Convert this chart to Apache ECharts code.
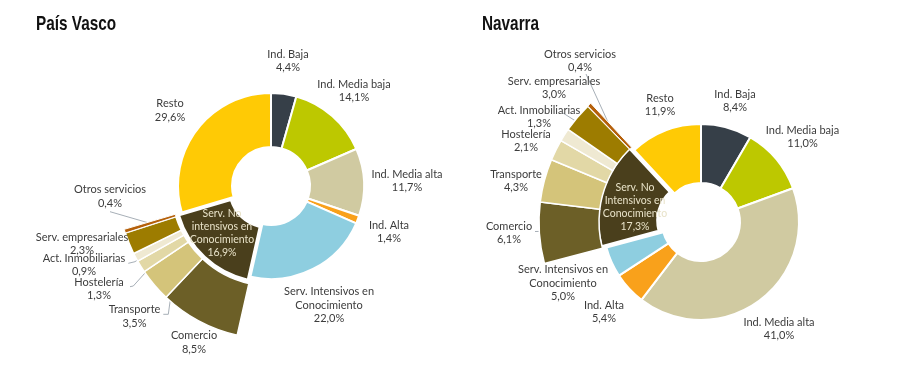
<!DOCTYPE html>
<html><head><meta charset="utf-8">
<script src="https://cdn.jsdelivr.net/npm/echarts@6/dist/echarts.min.js"></script>
<style>html,body{margin:0;padding:0;background:#fff}#c{width:904px;height:381px}</style>
</head><body><div id="c"></div>
<script>
// ---------------- DATA ----------------
const pvCategories = ['Ind. Baja','Ind. Media baja','Ind. Media alta','Ind. Alta','Serv. Intensivos en\nConocimiento','Serv. No\nintensivos en\nConocimiento','Resto'];
const navCategories = ['Ind. Baja','Ind. Media baja','Ind. Media alta','Ind. Alta','Serv. Intensivos en\nConocimiento','Serv. No\nIntensivos en\nConocimiento','Resto'];
const subCategories = ['Comercio','Transporte','Hostelería','Act. Inmobiliarias','Serv. empresariales','Otros servicios'];
const paisVascoMain = [4.4, 14.1, 11.7, 1.4, 22.0, 16.9, 29.6];
const paisVascoSub  = [8.5, 3.5, 1.3, 0.9, 2.3, 0.4];
const navarraMain   = [8.4, 11.0, 41.0, 5.4, 5.0, 17.3, 11.9];
const navarraSub    = [6.1, 4.3, 2.1, 1.3, 3.0, 0.4];
const breakdownIndex = 5; // "Serv. No intensivos" is broken down in the outer ring

// ---------------- STYLE / LAYOUT ----------------
const mainColors = ['#363f48','#bdc800','#d0caa1','#f9a11b','#8ecee0','#4a3f1c','#ffca05'];
const subColors  = ['#6c5f27','#d4c47a','#e2d8a6','#efe9d2','#9d7c00','#b5600a'];
const textColor = '#3c3c3c';
const labelFont = 'Lato, "Noto Sans", sans-serif';
const labelSize = 11;
const clear = 'rgba(0,0,0,0)';

const layouts = [
  { title: 'País Vasco', titleX: 36, center: [271, 186], main: [39, 93], sub: [100, 153], offset: 4,
    cats: pvCategories, mainVals: paisVascoMain, subVals: paisVascoSub,
    mainLabelAt: [[288,61],[354,91],[407,181],[389,232],[329,305],[222,233],[170,110.5]],
    subLabelAt: [[194,342.5],[134.5,316.5],[99,289],[84,265],[82,244],[110,196.5]],
    subLineFrom: [null, [[163.3,314.3],[168.3,314.3]], [[130,286.7],[133.3,286]], [[128.3,263.3],[135,261.7]], [[132,243]], [[110,211.7]]]
  },
  { title: 'Navarra', titleX: 482, center: [701, 222], main: [39, 98], sub: [102, 162], offset: 5,
    cats: navCategories, mainVals: navarraMain, subVals: navarraSub,
    mainLabelAt: [[735,101],[802.5,137],[779,329],[604,312],[563,283],[635,207],[660,105]],
    subLabelAt: [[509,233],[516,181],[526,141],[539,117],[554,88],[580,61]],
    subLineFrom: [[[535,231.5]], null, null, null, [[563,113]], [[586,74]]]
  }
];

function fmt(v) { return v.toFixed(1).replace('.', ',') + '%'; }

function buildSeries(L) {
  const cx = L.center[0], cy = L.center[1];
  // direction of the exploded slice (middle of its angular span)
  const total = L.mainVals.reduce((a, b) => a + b, 0);
  let cum = 0;
  for (let i = 0; i < breakdownIndex; i++) cum += L.mainVals[i];
  const mid = (cum + L.mainVals[breakdownIndex] / 2) / total * 2 * Math.PI;
  const explodedCenter = [cx + L.offset * Math.sin(mid), cy - L.offset * Math.cos(mid)];

  const mainData = L.cats.map((n, i) => ({
    name: n, value: L.mainVals[i],
    itemStyle: i === breakdownIndex ? { color: clear, borderWidth: 0 } : { color: mainColors[i] },
    label: i === breakdownIndex ? { color: '#e8e2c8', fontSize: 10.5, lineHeight: 13 } : {}
  }));
  const explodedData = L.cats.map((n, i) => ({
    name: n, value: L.mainVals[i],
    itemStyle: i === breakdownIndex ? { color: mainColors[i] } : { color: clear, borderWidth: 0 }
  }));
  const subData = [];
  const subMap = [];
  L.cats.forEach((n, i) => {
    if (i === breakdownIndex) {
      subCategories.forEach((s, j) => {
        subData.push({ name: s, value: L.subVals[j],
          itemStyle: { color: subColors[j], borderWidth: j === 5 ? 1 : 1.5 },
          labelLine: { show: !!L.subLineFrom[j] } });
        subMap.push(j);
      });
    } else {
      subData.push({ name: '_' + i, value: L.mainVals[i],
        itemStyle: { color: clear, borderWidth: 0 },
        label: { show: false }, labelLine: { show: false } });
      subMap.push(-1);
    }
  });
  const ringMid = (L.sub[0] + L.sub[1]) / 2;
  const labelBase = {
    show: true, position: 'outside', color: textColor, fontFamily: labelFont,
    fontSize: labelSize, lineHeight: 13.5, align: 'center',
    formatter: p => p.name + '\n' + fmt(p.value)
  };
  return [
    {
      type: 'pie', z: 1, center: explodedCenter, radius: L.main, startAngle: 90, clockwise: true,
      animation: false, silent: true, avoidLabelOverlap: false,
      itemStyle: { borderColor: '#fff', borderWidth: 2 },
      label: { show: false }, labelLine: { show: false },
      emphasis: { disabled: true },
      data: explodedData
    },
    {
      type: 'pie', z: 2, center: L.center, radius: L.main, startAngle: 90, clockwise: true,
      avoidLabelOverlap: false, animation: false, silent: true,
      itemStyle: { borderColor: '#fff', borderWidth: 2 },
      label: labelBase, labelLine: { show: false },
      emphasis: { disabled: true },
      data: mainData,
      labelLayout: p => {
        const pos = L.mainLabelAt[p.dataIndex];
        return { x: pos[0], y: pos[1], align: 'center', verticalAlign: 'middle' };
      }
    },
    {
      type: 'pie', z: 2, center: L.center, radius: L.sub, startAngle: 90, clockwise: true,
      avoidLabelOverlap: false, animation: false, silent: true,
      itemStyle: { borderColor: '#fff', borderWidth: 1.5 },
      label: labelBase,
      labelLine: { show: true, lineStyle: { color: '#a7afb7', width: 1 }, length: 5, length2: 5 },
      emphasis: { disabled: true },
      data: subData,
      labelLayout: p => {
        const j = subMap[p.dataIndex];
        if (j < 0) return {};
        const pos = L.subLabelAt[j];
        const out = { x: pos[0], y: pos[1], align: 'center', verticalAlign: 'middle' };
        const from = L.subLineFrom[j];
        if (from && p.labelLinePoints) {
          const a = p.labelLinePoints[0];
          const dx = a[0] - cx, dy = a[1] - cy, d = Math.hypot(dx, dy);
          const end = [cx + dx / d * ringMid, cy + dy / d * ringMid];
          const pts = from.slice();
          if (pts.length < 2) pts.push(pts[0]);
          pts.push(end);
          out.labelLinePoints = pts;
        }
        return out;
      }
    }
  ];
}

const chart = echarts.init(document.getElementById('c'), null, { renderer: 'canvas' });
const series = [];
layouts.forEach(L => series.push(...buildSeries(L)));
chart.setOption({
  backgroundColor: '#fff',
  animation: false,
  graphic: layouts.map(L => ({
    type: 'text', x: L.titleX, y: 14, scaleX: 0.73,
    style: { text: L.title, fill: '#111', fontFamily: '"Liberation Sans", Arial, sans-serif',
      fontWeight: 'bold', fontSize: 21, verticalAlign: 'top' }
  })),
  series: series
});
</script>
</body></html>
